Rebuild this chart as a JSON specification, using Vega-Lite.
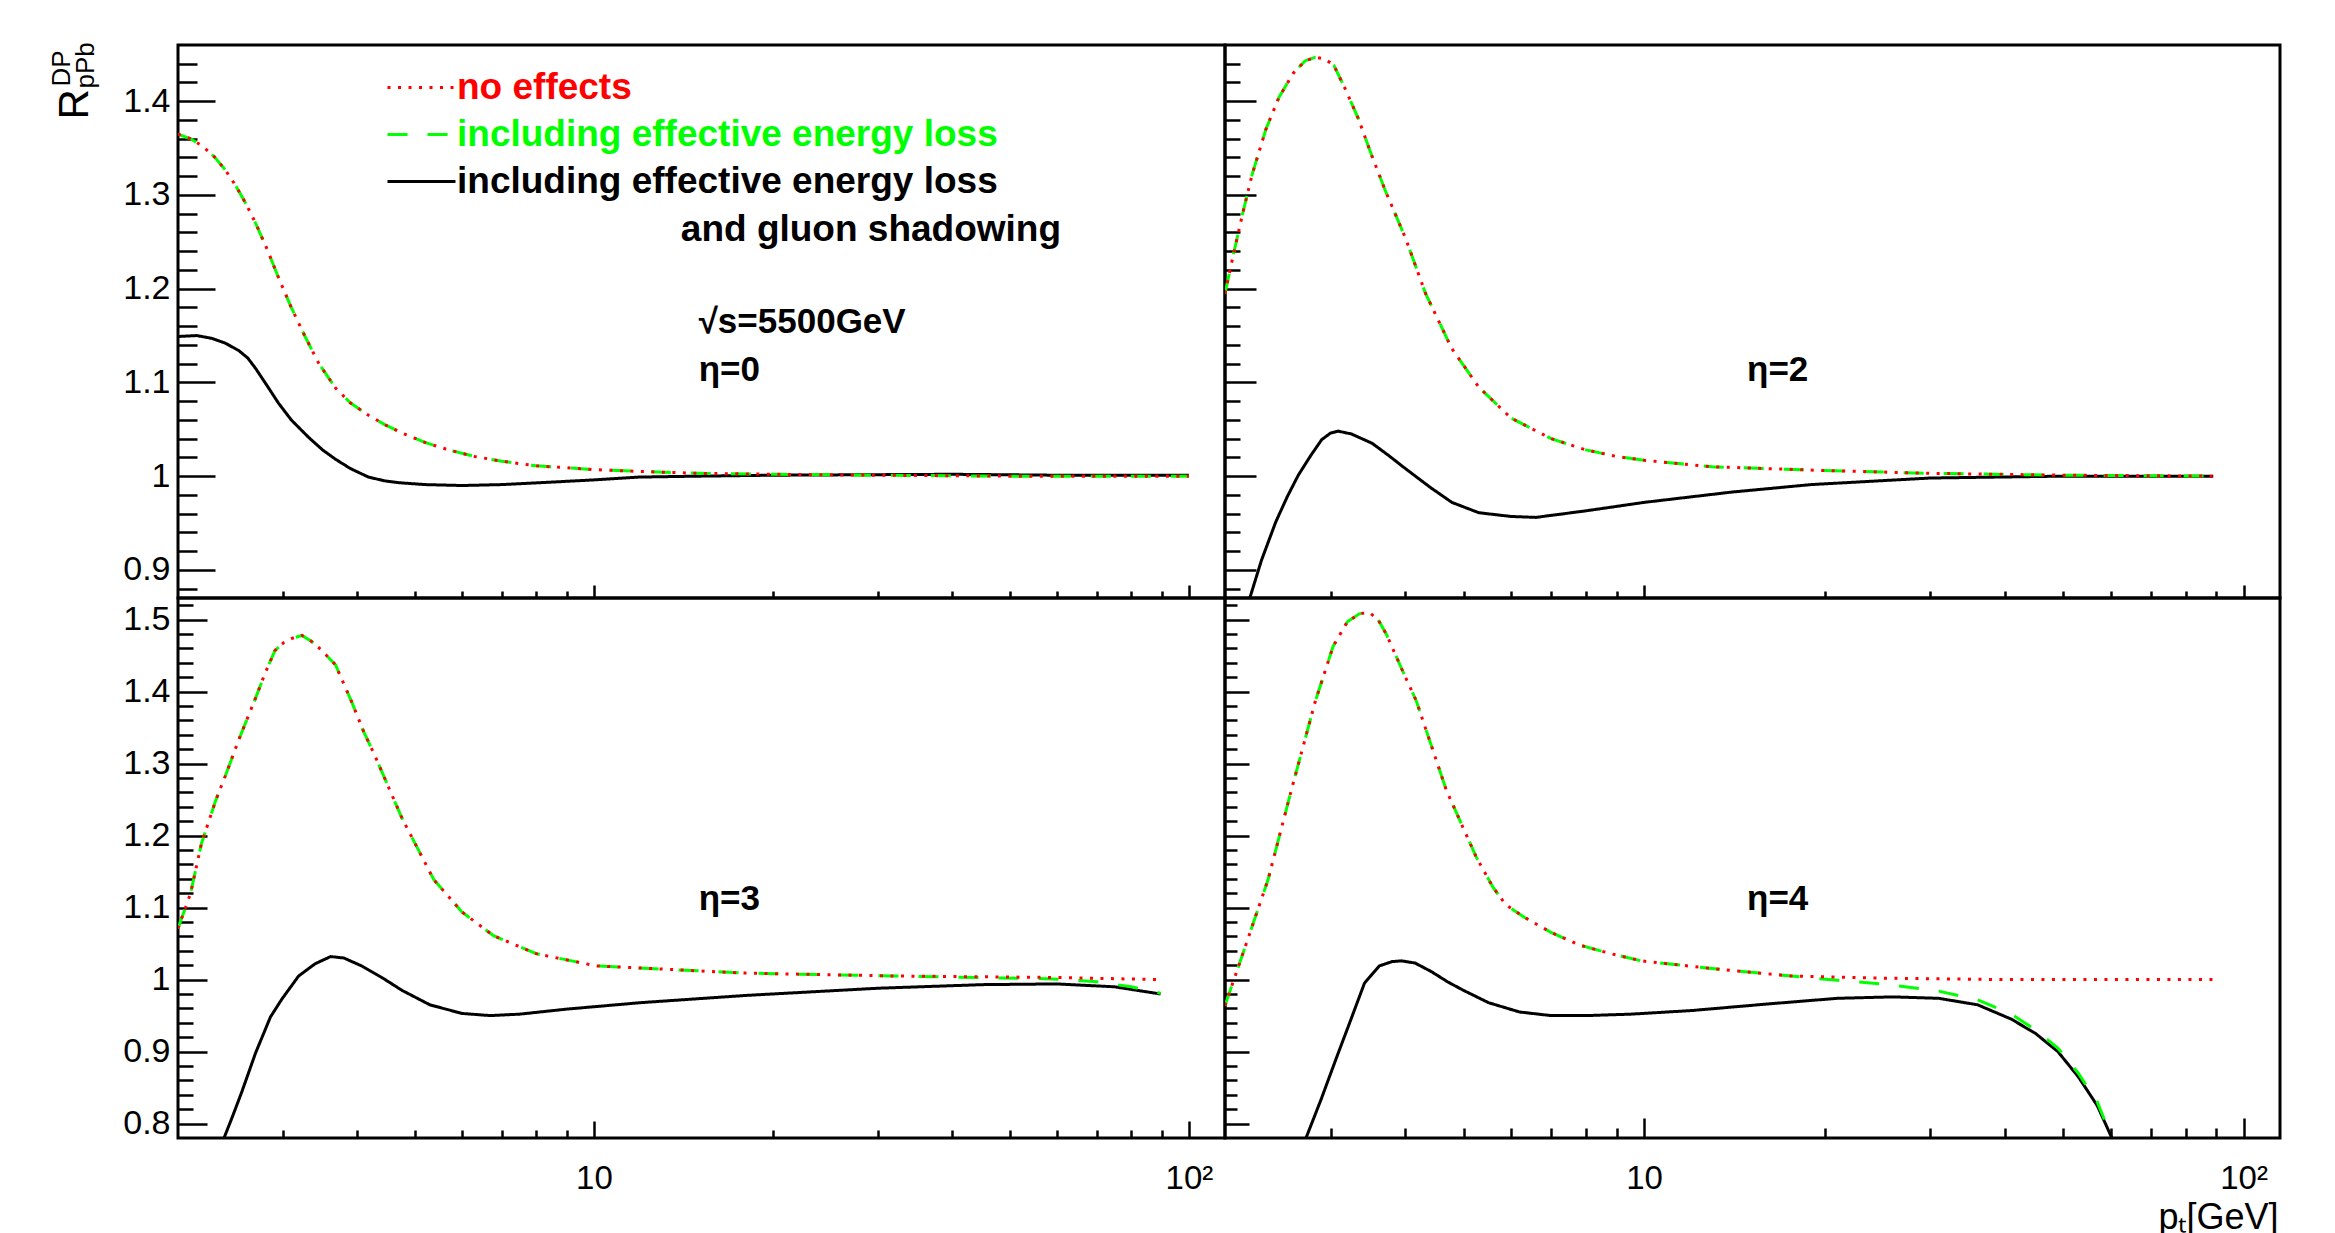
{
  "$schema": "https://vega.github.io/schema/vega-lite/v6.json",
  "background": "white",
  "padding": {"left": 46, "top": 40, "right": 0, "bottom": 0},
  "autosize": {"type": "pad"},
  "bounds": "flush",
  "align": "each",
  "spacing": 0,
  "columns": 2,
  "config": {
    "view": {"stroke": "black", "strokeWidth": 3},
    "font": "Liberation Sans",
    "axis": {"domain": false, "grid": false, "tickCount": 200, "tickColor": "black", "tickWidth": 2.5, "labelColor": "black", "labelFont": "Liberation Sans", "labelOverlap": false, "labelFlush": false, "labelBound": false, "titleColor": "black", "titleFont": "Liberation Sans", "titleFontWeight": "normal", "titlePadding": 0}
  },
  "datasets": {
    "tl": [
      {"series":"shadow","pt":2.0,"R":1.149},{"series":"shadow","pt":2.15,"R":1.150},{"series":"shadow","pt":2.28,"R":1.147},{"series":"shadow","pt":2.4,"R":1.142},{"series":"shadow","pt":2.53,"R":1.134},{"series":"shadow","pt":2.62,"R":1.126},{"series":"shadow","pt":2.7,"R":1.115},{"series":"shadow","pt":2.82,"R":1.097},{"series":"shadow","pt":2.95,"R":1.078},{"series":"shadow","pt":3.1,"R":1.060},{"series":"shadow","pt":3.32,"R":1.041},{"series":"shadow","pt":3.5,"R":1.028},{"series":"shadow","pt":3.68,"R":1.018},{"series":"shadow","pt":3.9,"R":1.008},{"series":"shadow","pt":4.18,"R":0.999},{"series":"shadow","pt":4.45,"R":0.995},{"series":"shadow","pt":4.7,"R":0.993},{"series":"shadow","pt":5.2,"R":0.991},{"series":"shadow","pt":6,"R":0.990},{"series":"shadow","pt":7,"R":0.991},{"series":"shadow","pt":8.7,"R":0.994},{"series":"shadow","pt":10,"R":0.996},{"series":"shadow","pt":11.9,"R":0.999},{"series":"shadow","pt":15,"R":1.0},{"series":"shadow","pt":20,"R":1.001},{"series":"shadow","pt":40,"R":1.002},{"series":"shadow","pt":60,"R":1.001},{"series":"shadow","pt":100,"R":1.001},
      {"series":"eloss","pt":2.0,"R":1.365},{"series":"eloss","pt":2.1,"R":1.360},{"series":"eloss","pt":2.2,"R":1.352},{"series":"eloss","pt":2.3,"R":1.341},{"series":"eloss","pt":2.4,"R":1.327},{"series":"eloss","pt":2.5,"R":1.310},{"series":"eloss","pt":2.6,"R":1.291},{"series":"eloss","pt":2.7,"R":1.270},{"series":"eloss","pt":2.82,"R":1.243},{"series":"eloss","pt":2.95,"R":1.212},{"series":"eloss","pt":3.1,"R":1.180},{"series":"eloss","pt":3.27,"R":1.149},{"series":"eloss","pt":3.45,"R":1.120},{"series":"eloss","pt":3.68,"R":1.094},{"series":"eloss","pt":3.9,"R":1.078},{"series":"eloss","pt":4.18,"R":1.065},{"series":"eloss","pt":4.45,"R":1.055},{"series":"eloss","pt":4.76,"R":1.046},{"series":"eloss","pt":5.2,"R":1.036},{"series":"eloss","pt":5.7,"R":1.028},{"series":"eloss","pt":6.3,"R":1.021},{"series":"eloss","pt":7,"R":1.016},{"series":"eloss","pt":8,"R":1.011},{"series":"eloss","pt":9,"R":1.009},{"series":"eloss","pt":10,"R":1.007},{"series":"eloss","pt":12,"R":1.005},{"series":"eloss","pt":15,"R":1.003},{"series":"eloss","pt":20,"R":1.002},{"series":"eloss","pt":30,"R":1.001},{"series":"eloss","pt":50,"R":1.0},{"series":"eloss","pt":100,"R":1.0},
      {"series":"none","pt":2.0,"R":1.365},{"series":"none","pt":2.1,"R":1.360},{"series":"none","pt":2.2,"R":1.352},{"series":"none","pt":2.3,"R":1.341},{"series":"none","pt":2.4,"R":1.327},{"series":"none","pt":2.5,"R":1.310},{"series":"none","pt":2.6,"R":1.291},{"series":"none","pt":2.7,"R":1.270},{"series":"none","pt":2.82,"R":1.243},{"series":"none","pt":2.95,"R":1.212},{"series":"none","pt":3.1,"R":1.180},{"series":"none","pt":3.27,"R":1.149},{"series":"none","pt":3.45,"R":1.120},{"series":"none","pt":3.68,"R":1.094},{"series":"none","pt":3.9,"R":1.078},{"series":"none","pt":4.18,"R":1.065},{"series":"none","pt":4.45,"R":1.055},{"series":"none","pt":4.76,"R":1.046},{"series":"none","pt":5.2,"R":1.036},{"series":"none","pt":5.7,"R":1.028},{"series":"none","pt":6.3,"R":1.021},{"series":"none","pt":7,"R":1.016},{"series":"none","pt":8,"R":1.011},{"series":"none","pt":9,"R":1.009},{"series":"none","pt":10,"R":1.007},{"series":"none","pt":12,"R":1.005},{"series":"none","pt":15,"R":1.003},{"series":"none","pt":20,"R":1.002},{"series":"none","pt":30,"R":1.001},{"series":"none","pt":50,"R":1.0},{"series":"none","pt":100,"R":1.0}
    ],
    "tr": [
      {"series":"shadow","pt":2.15,"R":0.85},{"series":"shadow","pt":2.2,"R":0.87},{"series":"shadow","pt":2.3,"R":0.91},{"series":"shadow","pt":2.43,"R":0.951},{"series":"shadow","pt":2.54,"R":0.978},{"series":"shadow","pt":2.65,"R":1.001},{"series":"shadow","pt":2.78,"R":1.022},{"series":"shadow","pt":2.9,"R":1.039},{"series":"shadow","pt":3.0,"R":1.046},{"series":"shadow","pt":3.09,"R":1.048},{"series":"shadow","pt":3.25,"R":1.045},{"series":"shadow","pt":3.52,"R":1.035},{"series":"shadow","pt":3.75,"R":1.022},{"series":"shadow","pt":4.0,"R":1.008},{"series":"shadow","pt":4.4,"R":0.988},{"series":"shadow","pt":4.78,"R":0.972},{"series":"shadow","pt":5.3,"R":0.961},{"series":"shadow","pt":6,"R":0.957},{"series":"shadow","pt":6.6,"R":0.956},{"series":"shadow","pt":8,"R":0.963},{"series":"shadow","pt":10,"R":0.972},{"series":"shadow","pt":14,"R":0.983},{"series":"shadow","pt":19,"R":0.991},{"series":"shadow","pt":30,"R":0.998},{"series":"shadow","pt":50,"R":1.0},{"series":"shadow","pt":89,"R":1.0},
      {"series":"eloss","pt":2.0,"R":1.195},{"series":"eloss","pt":2.06,"R":1.233},{"series":"eloss","pt":2.14,"R":1.28},{"series":"eloss","pt":2.22,"R":1.322},{"series":"eloss","pt":2.34,"R":1.37},{"series":"eloss","pt":2.46,"R":1.404},{"series":"eloss","pt":2.6,"R":1.43},{"series":"eloss","pt":2.72,"R":1.443},{"series":"eloss","pt":2.83,"R":1.447},{"series":"eloss","pt":2.94,"R":1.445},{"series":"eloss","pt":3.04,"R":1.438},{"series":"eloss","pt":3.18,"R":1.412},{"series":"eloss","pt":3.34,"R":1.381},{"series":"eloss","pt":3.5,"R":1.345},{"series":"eloss","pt":3.7,"R":1.305},{"series":"eloss","pt":4.0,"R":1.254},{"series":"eloss","pt":4.32,"R":1.195},{"series":"eloss","pt":4.78,"R":1.136},{"series":"eloss","pt":5.3,"R":1.095},{"series":"eloss","pt":6,"R":1.062},{"series":"eloss","pt":7,"R":1.04},{"series":"eloss","pt":8,"R":1.028},{"series":"eloss","pt":9,"R":1.021},{"series":"eloss","pt":10,"R":1.017},{"series":"eloss","pt":13,"R":1.01},{"series":"eloss","pt":20,"R":1.006},{"series":"eloss","pt":30,"R":1.003},{"series":"eloss","pt":50,"R":1.001},{"series":"eloss","pt":89,"R":1.0},
      {"series":"none","pt":2.0,"R":1.195},{"series":"none","pt":2.06,"R":1.233},{"series":"none","pt":2.14,"R":1.28},{"series":"none","pt":2.22,"R":1.322},{"series":"none","pt":2.34,"R":1.37},{"series":"none","pt":2.46,"R":1.404},{"series":"none","pt":2.6,"R":1.43},{"series":"none","pt":2.72,"R":1.443},{"series":"none","pt":2.83,"R":1.447},{"series":"none","pt":2.94,"R":1.445},{"series":"none","pt":3.04,"R":1.438},{"series":"none","pt":3.18,"R":1.412},{"series":"none","pt":3.34,"R":1.381},{"series":"none","pt":3.5,"R":1.345},{"series":"none","pt":3.7,"R":1.305},{"series":"none","pt":4.0,"R":1.254},{"series":"none","pt":4.32,"R":1.195},{"series":"none","pt":4.78,"R":1.136},{"series":"none","pt":5.3,"R":1.095},{"series":"none","pt":6,"R":1.062},{"series":"none","pt":7,"R":1.04},{"series":"none","pt":8,"R":1.028},{"series":"none","pt":9,"R":1.021},{"series":"none","pt":10,"R":1.017},{"series":"none","pt":13,"R":1.01},{"series":"none","pt":20,"R":1.006},{"series":"none","pt":30,"R":1.003},{"series":"none","pt":50,"R":1.001},{"series":"none","pt":89,"R":1.0}
    ],
    "bl": [
      {"series":"shadow","pt":2.35,"R":0.76},{"series":"shadow","pt":2.39,"R":0.78},{"series":"shadow","pt":2.47,"R":0.81},{"series":"shadow","pt":2.56,"R":0.844},{"series":"shadow","pt":2.7,"R":0.898},{"series":"shadow","pt":2.86,"R":0.948},{"series":"shadow","pt":2.99,"R":0.973},{"series":"shadow","pt":3.19,"R":1.005},{"series":"shadow","pt":3.4,"R":1.022},{"series":"shadow","pt":3.61,"R":1.032},{"series":"shadow","pt":3.8,"R":1.030},{"series":"shadow","pt":4.07,"R":1.019},{"series":"shadow","pt":4.4,"R":1.003},{"series":"shadow","pt":4.76,"R":0.985},{"series":"shadow","pt":5.3,"R":0.965},{"series":"shadow","pt":6,"R":0.953},{"series":"shadow","pt":6.7,"R":0.950},{"series":"shadow","pt":7.5,"R":0.952},{"series":"shadow","pt":9,"R":0.959},{"series":"shadow","pt":12,"R":0.968},{"series":"shadow","pt":18,"R":0.978},{"series":"shadow","pt":30,"R":0.988},{"series":"shadow","pt":45,"R":0.993},{"series":"shadow","pt":60,"R":0.994},{"series":"shadow","pt":75,"R":0.99},{"series":"shadow","pt":89.6,"R":0.980},
      {"series":"eloss","pt":2.0,"R":1.071},{"series":"eloss","pt":2.1,"R":1.120},{"series":"eloss","pt":2.19,"R":1.189},{"series":"eloss","pt":2.31,"R":1.247},{"series":"eloss","pt":2.42,"R":1.29},{"series":"eloss","pt":2.53,"R":1.333},{"series":"eloss","pt":2.7,"R":1.391},{"series":"eloss","pt":2.8,"R":1.425},{"series":"eloss","pt":2.91,"R":1.457},{"series":"eloss","pt":3.01,"R":1.468},{"series":"eloss","pt":3.11,"R":1.474},{"series":"eloss","pt":3.23,"R":1.478},{"series":"eloss","pt":3.35,"R":1.470},{"series":"eloss","pt":3.49,"R":1.457},{"series":"eloss","pt":3.68,"R":1.437},{"series":"eloss","pt":3.92,"R":1.385},{"series":"eloss","pt":4.1,"R":1.345},{"series":"eloss","pt":4.29,"R":1.310},{"series":"eloss","pt":4.76,"R":1.224},{"series":"eloss","pt":5.38,"R":1.139},{"series":"eloss","pt":6.0,"R":1.094},{"series":"eloss","pt":6.78,"R":1.061},{"series":"eloss","pt":8.0,"R":1.036},{"series":"eloss","pt":10.1,"R":1.019},{"series":"eloss","pt":18,"R":1.009},{"series":"eloss","pt":32,"R":1.005},{"series":"eloss","pt":59,"R":1.001},{"series":"eloss","pt":70,"R":0.997},{"series":"eloss","pt":80,"R":0.99},{"series":"eloss","pt":89.6,"R":0.981},
      {"series":"none","pt":2.0,"R":1.071},{"series":"none","pt":2.1,"R":1.120},{"series":"none","pt":2.19,"R":1.189},{"series":"none","pt":2.31,"R":1.247},{"series":"none","pt":2.42,"R":1.29},{"series":"none","pt":2.53,"R":1.333},{"series":"none","pt":2.7,"R":1.391},{"series":"none","pt":2.8,"R":1.425},{"series":"none","pt":2.91,"R":1.457},{"series":"none","pt":3.01,"R":1.468},{"series":"none","pt":3.11,"R":1.474},{"series":"none","pt":3.23,"R":1.478},{"series":"none","pt":3.35,"R":1.470},{"series":"none","pt":3.49,"R":1.457},{"series":"none","pt":3.68,"R":1.437},{"series":"none","pt":3.92,"R":1.385},{"series":"none","pt":4.1,"R":1.345},{"series":"none","pt":4.29,"R":1.310},{"series":"none","pt":4.76,"R":1.224},{"series":"none","pt":5.38,"R":1.139},{"series":"none","pt":6.0,"R":1.094},{"series":"none","pt":6.78,"R":1.061},{"series":"none","pt":8.0,"R":1.036},{"series":"none","pt":10.1,"R":1.019},{"series":"none","pt":18,"R":1.009},{"series":"none","pt":32,"R":1.005},{"series":"none","pt":59,"R":1.003},{"series":"none","pt":89.6,"R":1.0}
    ],
    "br": [
      {"series":"shadow","pt":2.7,"R":0.77},{"series":"shadow","pt":2.73,"R":0.78},{"series":"shadow","pt":2.894,"R":0.834},{"series":"shadow","pt":3.064,"R":0.890},{"series":"shadow","pt":3.245,"R":0.945},{"series":"shadow","pt":3.417,"R":0.995},{"series":"shadow","pt":3.617,"R":1.019},{"series":"shadow","pt":3.8,"R":1.025},{"series":"shadow","pt":3.94,"R":1.026},{"series":"shadow","pt":4.15,"R":1.023},{"series":"shadow","pt":4.42,"R":1.011},{"series":"shadow","pt":4.7,"R":0.997},{"series":"shadow","pt":5.0,"R":0.985},{"series":"shadow","pt":5.5,"R":0.968},{"series":"shadow","pt":6.2,"R":0.955},{"series":"shadow","pt":7,"R":0.950},{"series":"shadow","pt":8,"R":0.950},{"series":"shadow","pt":9.5,"R":0.952},{"series":"shadow","pt":12,"R":0.957},{"series":"shadow","pt":16,"R":0.966},{"series":"shadow","pt":21,"R":0.974},{"series":"shadow","pt":26,"R":0.976},{"series":"shadow","pt":31,"R":0.974},{"series":"shadow","pt":36,"R":0.965},{"series":"shadow","pt":41,"R":0.945},{"series":"shadow","pt":45,"R":0.925},{"series":"shadow","pt":49,"R":0.90},{"series":"shadow","pt":53,"R":0.865},{"series":"shadow","pt":57,"R":0.825},{"series":"shadow","pt":60.3,"R":0.78},
      {"series":"eloss","pt":2.0,"R":0.964},{"series":"eloss","pt":2.15,"R":1.04},{"series":"eloss","pt":2.36,"R":1.139},{"series":"eloss","pt":2.58,"R":1.263},{"series":"eloss","pt":2.83,"R":1.387},{"series":"eloss","pt":3.03,"R":1.463},{"series":"eloss","pt":3.2,"R":1.497},{"series":"eloss","pt":3.35,"R":1.508},{"series":"eloss","pt":3.48,"R":1.510},{"series":"eloss","pt":3.6,"R":1.500},{"series":"eloss","pt":3.72,"R":1.479},{"series":"eloss","pt":3.95,"R":1.43},{"series":"eloss","pt":4.17,"R":1.387},{"series":"eloss","pt":4.68,"R":1.263},{"series":"eloss","pt":5.25,"R":1.170},{"series":"eloss","pt":5.6,"R":1.128},{"series":"eloss","pt":5.88,"R":1.104},{"series":"eloss","pt":6.3,"R":1.087},{"series":"eloss","pt":6.98,"R":1.066},{"series":"eloss","pt":7.8,"R":1.048},{"series":"eloss","pt":8.8,"R":1.036},{"series":"eloss","pt":9.9,"R":1.026},{"series":"eloss","pt":13.1,"R":1.015},{"series":"eloss","pt":17.6,"R":1.005},{"series":"eloss","pt":21,"R":0.999},{"series":"eloss","pt":25,"R":0.994},{"series":"eloss","pt":31,"R":0.984},{"series":"eloss","pt":36,"R":0.972},{"series":"eloss","pt":41,"R":0.952},{"series":"eloss","pt":45,"R":0.93},{"series":"eloss","pt":49,"R":0.905},{"series":"eloss","pt":53,"R":0.87},{"series":"eloss","pt":57,"R":0.83},{"series":"eloss","pt":60.3,"R":0.78},
      {"series":"none","pt":2.0,"R":0.964},{"series":"none","pt":2.15,"R":1.04},{"series":"none","pt":2.36,"R":1.139},{"series":"none","pt":2.58,"R":1.263},{"series":"none","pt":2.83,"R":1.387},{"series":"none","pt":3.03,"R":1.463},{"series":"none","pt":3.2,"R":1.497},{"series":"none","pt":3.35,"R":1.508},{"series":"none","pt":3.48,"R":1.510},{"series":"none","pt":3.6,"R":1.500},{"series":"none","pt":3.72,"R":1.479},{"series":"none","pt":3.95,"R":1.43},{"series":"none","pt":4.17,"R":1.387},{"series":"none","pt":4.68,"R":1.263},{"series":"none","pt":5.25,"R":1.170},{"series":"none","pt":5.6,"R":1.128},{"series":"none","pt":5.88,"R":1.104},{"series":"none","pt":6.3,"R":1.087},{"series":"none","pt":6.98,"R":1.066},{"series":"none","pt":7.8,"R":1.048},{"series":"none","pt":8.8,"R":1.036},{"series":"none","pt":9.9,"R":1.026},{"series":"none","pt":13.1,"R":1.015},{"series":"none","pt":17.6,"R":1.005},{"series":"none","pt":25,"R":1.002},{"series":"none","pt":40,"R":1.0},{"series":"none","pt":89,"R":1.0}
    ]
  },
  "concat": [
    {
      "width": 1047, "height": 553,
      "layer": [
        {"data": {"name": "tl"}, "transform": [{"filter": "datum.series == 'shadow'"}], "mark": {"type": "line", "strokeWidth": 3, "clip": true},
          "encoding": {
            "x": {"field": "pt", "type": "quantitative", "scale": {"type": "log", "domain": [2, 115], "nice": false},
              "axis": {"values": [3,4,5,6,7,8,9,10,20,30,40,50,60,70,80,90,100], "tickCount": 200, "labels": false, "tickSize": -13,
                "tickDash": {"condition": {"test": "datum.value == 10 || datum.value == 100", "value": [100, 0]}, "value": [7, 60]},
                "title": "DP", "titleAngle": -90, "titleAlign": "left", "titleBaseline": "alphabetic", "titleX": -109, "titleY": -512, "titleFontSize": 26}},
            "y": {"field": "R", "type": "quantitative", "scale": {"domain": [0.87, 1.46], "nice": false, "zero": false},
              "axis": {"values": [0.88,0.9,0.92,0.94,0.96,0.98,1,1.02,1.04,1.06,1.08,1.1,1.12,1.14,1.16,1.18,1.2,1.22,1.24,1.26,1.28,1.3,1.32,1.34,1.36,1.38,1.4,1.42,1.44], "tickCount": 200,
                "labelExpr": "abs(datum.value*10 - round(datum.value*10)) < 0.001 ? (abs(datum.value-1) < 0.001 ? '1' : format(datum.value, '.1f')) : ''",
                "tickSize": -37,
                "tickDash": {"condition": {"test": "abs(datum.value*10 - round(datum.value*10)) < 0.001", "value": [100, 0]}, "value": [19, 100]},
                "labelPadding": 45, "labelFontSize": 34,
                "title": "R", "titleFontSize": 42, "titleAngle": -90, "titleAlign": "left", "titleBaseline": "alphabetic", "titleX": -91, "titleY": 74}},
            "color": {"field": "series", "type": "nominal", "scale": {"domain": ["none","eloss","shadow"], "range": ["#ff0000","#00ff00","#000000"]},
              "legend": {"title": null, "orient": "none", "legendX": 208, "legendY": 19, "symbolType": "stroke", "symbolSize": 4624, "symbolStrokeWidth": 3, "labelFont": "Liberation Sans", "labelFontSize": 37, "labelFontWeight": "bold", "labelLimit": 2000, "labelOffset": 0, "rowPadding": 0, "clipHeight": 47,
                "labelExpr": "datum.value == 'none' ? 'no effects' : 'including effective energy loss'",
                "labelColor": {"expr": "datum.value == 'none' ? '#ff0000' : datum.value == 'eloss' ? '#00ff00' : '#000000'"}}},
            "strokeDash": {"field": "series", "type": "nominal", "scale": {"domain": ["none","eloss","shadow"], "range": [[3,7.5],[20,20],[1,0]]},
              "legend": {"title": null, "orient": "none", "legendX": 208, "legendY": 19, "symbolType": "stroke", "symbolSize": 4624, "symbolStrokeWidth": 3, "labelFont": "Liberation Sans", "labelFontSize": 37, "labelFontWeight": "bold", "labelLimit": 2000, "labelOffset": 0, "rowPadding": 0, "clipHeight": 47,
                "labelExpr": "datum.value == 'none' ? 'no effects' : 'including effective energy loss'",
                "labelColor": {"expr": "datum.value == 'none' ? '#ff0000' : datum.value == 'eloss' ? '#00ff00' : '#000000'"}}}
          }},
        {"data": {"name": "tl"}, "transform": [{"filter": "datum.series == 'eloss'"}], "mark": {"type": "line", "strokeWidth": 3, "clip": true},
          "encoding": {"x": {"field": "pt", "type": "quantitative", "scale": {"type": "log", "domain": [2, 115], "nice": false}}, "y": {"field": "R", "type": "quantitative", "scale": {"domain": [0.87, 1.46], "nice": false, "zero": false}},
            "color": {"field": "series", "type": "nominal", "legend": null}, "strokeDash": {"field": "series", "type": "nominal", "legend": null}}},
        {"data": {"name": "tl"}, "transform": [{"filter": "datum.series == 'none'"}], "mark": {"type": "line", "strokeWidth": 3, "clip": true},
          "encoding": {"x": {"field": "pt", "type": "quantitative", "scale": {"type": "log", "domain": [2, 115], "nice": false}}, "y": {"field": "R", "type": "quantitative", "scale": {"domain": [0.87, 1.46], "nice": false, "zero": false}},
            "color": {"field": "series", "type": "nominal", "legend": null}, "strokeDash": {"field": "series", "type": "nominal", "legend": null}}},
        {"data": {"values": [{}]}, "mark": {"type": "text", "font": "Liberation Sans", "fontSize": 37, "fontWeight": "bold", "align": "left", "baseline": "alphabetic", "color": "black"},
          "encoding": {"x": {"datum": 14.0, "type": "quantitative", "scale": {"type": "log", "domain": [2, 115], "nice": false}}, "y": {"datum": 1.2506, "type": "quantitative", "scale": {"domain": [0.87, 1.46], "nice": false, "zero": false}}, "text": {"value": "and gluon shadowing"}}},
        {"data": {"values": [{}]}, "mark": {"type": "text", "font": "Liberation Sans", "fontSize": 35, "fontWeight": "bold", "align": "left", "baseline": "alphabetic", "color": "black"},
          "encoding": {"x": {"datum": 15, "type": "quantitative", "scale": {"type": "log", "domain": [2, 115], "nice": false}}, "y": {"datum": 1.153, "type": "quantitative", "scale": {"domain": [0.87, 1.46], "nice": false, "zero": false}}, "text": {"value": "√s=5500GeV"}}},
        {"data": {"values": [{}]}, "mark": {"type": "text", "font": "Liberation Sans", "fontSize": 35, "fontWeight": "bold", "align": "left", "baseline": "alphabetic", "color": "black"},
          "encoding": {"x": {"datum": 15, "type": "quantitative", "scale": {"type": "log", "domain": [2, 115], "nice": false}}, "y": {"datum": 1.101, "type": "quantitative", "scale": {"domain": [0.87, 1.46], "nice": false, "zero": false}}, "text": {"value": "η=0"}}}
      ]
    },
    {
      "width": 1055, "height": 553,
      "layer": [
        {"data": {"name": "tr"}, "transform": [{"filter": "datum.series == 'shadow'"}], "mark": {"type": "line", "strokeWidth": 3, "clip": true},
          "encoding": {
            "x": {"field": "pt", "type": "quantitative", "scale": {"type": "log", "domain": [2, 115], "nice": false},
              "axis": {"values": [3,4,5,6,7,8,9,10,20,30,40,50,60,70,80,90,100], "tickCount": 200, "labels": false, "tickSize": -13,
                "tickDash": {"condition": {"test": "datum.value == 10 || datum.value == 100", "value": [100, 0]}, "value": [7, 60]},
                "title": "pPb", "titleAngle": -90, "titleAlign": "left", "titleBaseline": "alphabetic", "titleX": -1132, "titleY": -510, "titleFontSize": 26}},
            "y": {"field": "R", "type": "quantitative", "scale": {"domain": [0.87, 1.46], "nice": false, "zero": false},
              "axis": {"values": [0.88,0.9,0.92,0.94,0.96,0.98,1,1.02,1.04,1.06,1.08,1.1,1.12,1.14,1.16,1.18,1.2,1.22,1.24,1.26,1.28,1.3,1.32,1.34,1.36,1.38,1.4,1.42,1.44], "tickCount": 200,
                "labels": false, "title": null, "tickSize": -31,
                "tickDash": {"condition": {"test": "abs(datum.value*10 - round(datum.value*10)) < 0.001", "value": [100, 0]}, "value": [15, 100]}}},
            "color": {"field": "series", "type": "nominal", "legend": null}, "strokeDash": {"field": "series", "type": "nominal", "legend": null}}},
        {"data": {"name": "tr"}, "transform": [{"filter": "datum.series == 'eloss'"}], "mark": {"type": "line", "strokeWidth": 3, "clip": true},
          "encoding": {"x": {"field": "pt", "type": "quantitative", "scale": {"type": "log", "domain": [2, 115], "nice": false}}, "y": {"field": "R", "type": "quantitative", "scale": {"domain": [0.87, 1.46], "nice": false, "zero": false}},
            "color": {"field": "series", "type": "nominal", "legend": null}, "strokeDash": {"field": "series", "type": "nominal", "legend": null}}},
        {"data": {"name": "tr"}, "transform": [{"filter": "datum.series == 'none'"}], "mark": {"type": "line", "strokeWidth": 3, "clip": true},
          "encoding": {"x": {"field": "pt", "type": "quantitative", "scale": {"type": "log", "domain": [2, 115], "nice": false}}, "y": {"field": "R", "type": "quantitative", "scale": {"domain": [0.87, 1.46], "nice": false, "zero": false}},
            "color": {"field": "series", "type": "nominal", "legend": null}, "strokeDash": {"field": "series", "type": "nominal", "legend": null}}},
        {"data": {"values": [{}]}, "mark": {"type": "text", "font": "Liberation Sans", "fontSize": 35, "fontWeight": "bold", "align": "left", "baseline": "alphabetic", "color": "black"},
          "encoding": {"x": {"datum": 14.85, "type": "quantitative", "scale": {"type": "log", "domain": [2, 115], "nice": false}}, "y": {"datum": 1.101, "type": "quantitative", "scale": {"domain": [0.87, 1.46], "nice": false, "zero": false}}, "text": {"value": "η=2"}}}
      ]
    },
    {
      "width": 1047, "height": 540,
      "layer": [
        {"data": {"name": "bl"}, "transform": [{"filter": "datum.series == 'shadow'"}], "mark": {"type": "line", "strokeWidth": 3, "clip": true},
          "encoding": {
            "x": {"field": "pt", "type": "quantitative", "scale": {"type": "log", "domain": [2, 115], "nice": false},
              "axis": {"values": [3,4,5,6,7,8,9,10,20,30,40,50,60,70,80,90,100], "tickCount": 200,
                "labelExpr": "datum.value == 10 ? '10' : datum.value == 100 ? '10²' : ''",
                "labelFontSize": 33, "labelPadding": 41, "tickSize": -17,
                "tickDash": {"condition": {"test": "datum.value == 10 || datum.value == 100", "value": [100, 0]}, "value": [8, 60]},
                "title": null}},
            "y": {"field": "R", "type": "quantitative", "scale": {"domain": [0.78, 1.53], "nice": false, "zero": false},
              "axis": {"values": [0.8,0.82,0.84,0.86,0.88,0.9,0.92,0.94,0.96,0.98,1,1.02,1.04,1.06,1.08,1.1,1.12,1.14,1.16,1.18,1.2,1.22,1.24,1.26,1.28,1.3,1.32,1.34,1.36,1.38,1.4,1.42,1.44,1.46,1.48,1.5,1.52], "tickCount": 200,
                "labelExpr": "abs(datum.value*10 - round(datum.value*10)) < 0.001 ? (abs(datum.value-1) < 0.001 ? '1' : format(datum.value, '.1f')) : ''",
                "tickSize": -29,
                "tickDash": {"condition": {"test": "abs(datum.value*10 - round(datum.value*10)) < 0.001", "value": [100, 0]}, "value": [15, 100]},
                "labelPadding": 37, "labelFontSize": 34, "title": null}},
            "color": {"field": "series", "type": "nominal", "legend": null}, "strokeDash": {"field": "series", "type": "nominal", "legend": null}}},
        {"data": {"name": "bl"}, "transform": [{"filter": "datum.series == 'eloss'"}], "mark": {"type": "line", "strokeWidth": 3, "clip": true},
          "encoding": {"x": {"field": "pt", "type": "quantitative", "scale": {"type": "log", "domain": [2, 115], "nice": false}}, "y": {"field": "R", "type": "quantitative", "scale": {"domain": [0.78, 1.53], "nice": false, "zero": false}},
            "color": {"field": "series", "type": "nominal", "legend": null}, "strokeDash": {"field": "series", "type": "nominal", "legend": null}}},
        {"data": {"name": "bl"}, "transform": [{"filter": "datum.series == 'none'"}], "mark": {"type": "line", "strokeWidth": 3, "clip": true},
          "encoding": {"x": {"field": "pt", "type": "quantitative", "scale": {"type": "log", "domain": [2, 115], "nice": false}}, "y": {"field": "R", "type": "quantitative", "scale": {"domain": [0.78, 1.53], "nice": false, "zero": false}},
            "color": {"field": "series", "type": "nominal", "legend": null}, "strokeDash": {"field": "series", "type": "nominal", "legend": null}}},
        {"data": {"values": [{}]}, "mark": {"type": "text", "font": "Liberation Sans", "fontSize": 35, "fontWeight": "bold", "align": "left", "baseline": "alphabetic", "color": "black"},
          "encoding": {"x": {"datum": 15, "type": "quantitative", "scale": {"type": "log", "domain": [2, 115], "nice": false}}, "y": {"datum": 1.096, "type": "quantitative", "scale": {"domain": [0.78, 1.53], "nice": false, "zero": false}}, "text": {"value": "η=3"}}}
      ]
    },
    {
      "width": 1055, "height": 540,
      "layer": [
        {"data": {"name": "br"}, "transform": [{"filter": "datum.series == 'shadow'"}], "mark": {"type": "line", "strokeWidth": 3, "clip": true},
          "encoding": {
            "x": {"field": "pt", "type": "quantitative", "scale": {"type": "log", "domain": [2, 115], "nice": false},
              "axis": {"values": [3,4,5,6,7,8,9,10,20,30,40,50,60,70,80,90,100], "tickCount": 200,
                "labelExpr": "datum.value == 10 ? '10' : datum.value == 100 ? '10²' : ''",
                "labelFontSize": 33, "labelPadding": 44, "tickSize": -20,
                "tickDash": {"condition": {"test": "datum.value == 10 || datum.value == 100", "value": [100, 0]}, "value": [10, 60]},
                "title": "pₜ[GeV]", "titleX": 1053, "titleY": 90, "titleAlign": "right", "titleBaseline": "alphabetic", "titleAngle": 0, "titleFontSize": 36}},
            "y": {"field": "R", "type": "quantitative", "scale": {"domain": [0.78, 1.53], "nice": false, "zero": false},
              "axis": {"values": [0.8,0.82,0.84,0.86,0.88,0.9,0.92,0.94,0.96,0.98,1,1.02,1.04,1.06,1.08,1.1,1.12,1.14,1.16,1.18,1.2,1.22,1.24,1.26,1.28,1.3,1.32,1.34,1.36,1.38,1.4,1.42,1.44,1.46,1.48,1.5,1.52], "tickCount": 200,
                "labels": false, "title": null, "tickSize": -24,
                "tickDash": {"condition": {"test": "abs(datum.value*10 - round(datum.value*10)) < 0.001", "value": [100, 0]}, "value": [12, 100]}}},
            "color": {"field": "series", "type": "nominal", "legend": null}, "strokeDash": {"field": "series", "type": "nominal", "legend": null}}},
        {"data": {"name": "br"}, "transform": [{"filter": "datum.series == 'eloss'"}], "mark": {"type": "line", "strokeWidth": 3, "clip": true},
          "encoding": {"x": {"field": "pt", "type": "quantitative", "scale": {"type": "log", "domain": [2, 115], "nice": false}}, "y": {"field": "R", "type": "quantitative", "scale": {"domain": [0.78, 1.53], "nice": false, "zero": false}},
            "color": {"field": "series", "type": "nominal", "legend": null}, "strokeDash": {"field": "series", "type": "nominal", "legend": null}}},
        {"data": {"name": "br"}, "transform": [{"filter": "datum.series == 'none'"}], "mark": {"type": "line", "strokeWidth": 3, "clip": true},
          "encoding": {"x": {"field": "pt", "type": "quantitative", "scale": {"type": "log", "domain": [2, 115], "nice": false}}, "y": {"field": "R", "type": "quantitative", "scale": {"domain": [0.78, 1.53], "nice": false, "zero": false}},
            "color": {"field": "series", "type": "nominal", "legend": null}, "strokeDash": {"field": "series", "type": "nominal", "legend": null}}},
        {"data": {"values": [{}]}, "mark": {"type": "text", "font": "Liberation Sans", "fontSize": 35, "fontWeight": "bold", "align": "left", "baseline": "alphabetic", "color": "black"},
          "encoding": {"x": {"datum": 14.85, "type": "quantitative", "scale": {"type": "log", "domain": [2, 115], "nice": false}}, "y": {"datum": 1.096, "type": "quantitative", "scale": {"domain": [0.78, 1.53], "nice": false, "zero": false}}, "text": {"value": "η=4"}}}
      ]
    }
  ]
}
